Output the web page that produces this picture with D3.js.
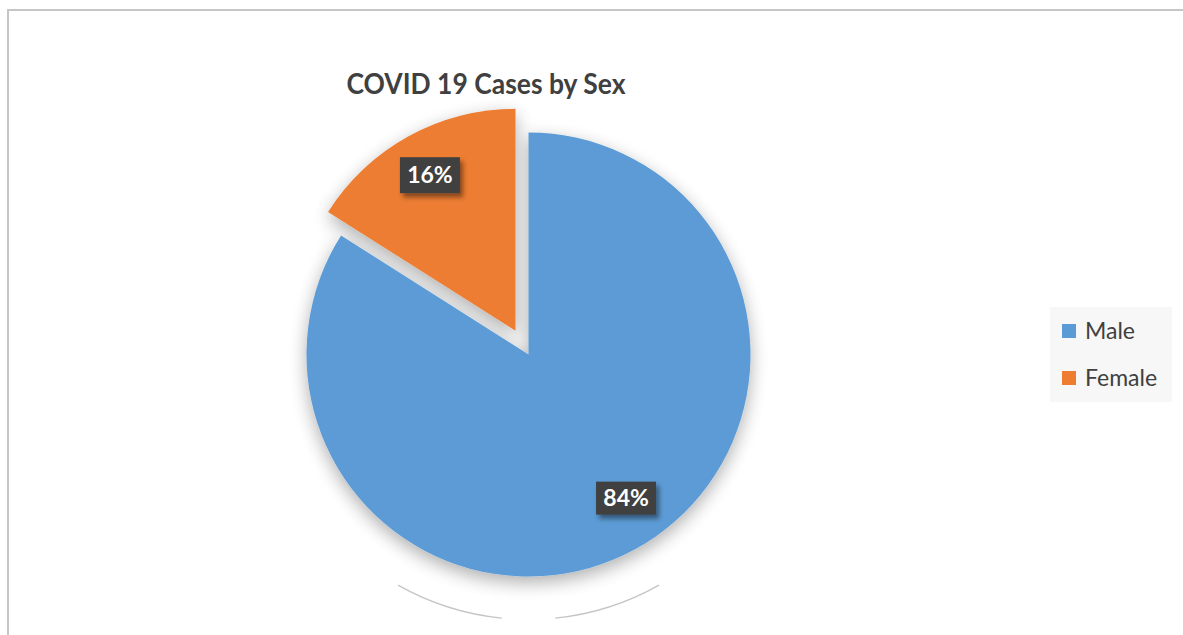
<!DOCTYPE html>
<html>
<head>
<meta charset="utf-8">
<script src="https://cdn.jsdelivr.net/npm/d3@7"></script>
<style>
  html, body { margin: 0; padding: 0; background: #fff; }
  svg { display: block; }
</style>
</head>
<body>
<svg id="chart" width="1183" height="635"></svg>
<script>
// Case counts split by sex (share of total, %)
const categories = ["Male", "Female"];
const values = [84, 16];
const colors = ["#5B9BD5", "#ED7D31"];
const chartTitle = "COVID 19 Cases by Sex";

const W = 1183, H = 635;
const svg = d3.select("#chart");
const defs = svg.append("defs");

// Soft shadow under the pie
const sh = defs.append("filter").attr("id", "pieShadow")
  .attr("x", "-30%").attr("y", "-30%").attr("width", "160%").attr("height", "170%");
sh.append("feGaussianBlur").attr("in", "SourceAlpha").attr("stdDeviation", 9).attr("result", "b");
sh.append("feOffset").attr("in", "b").attr("dx", 0).attr("dy", 6).attr("result", "o");
sh.append("feComponentTransfer").attr("in", "o").attr("result", "s")
  .append("feFuncA").attr("type", "linear").attr("slope", 0.32);
const shm = sh.append("feMerge");
shm.append("feMergeNode").attr("in", "s");
shm.append("feMergeNode").attr("in", "SourceGraphic");

// Shadow for the value labels
const ls = defs.append("filter").attr("id", "labelShadow")
  .attr("x", "-30%").attr("y", "-30%").attr("width", "170%").attr("height", "190%");
ls.append("feDropShadow").attr("dx", 3).attr("dy", 4).attr("stdDeviation", 2.5)
  .attr("flood-color", "#000").attr("flood-opacity", 0.45);

// Chart area frame
svg.append("path")
  .attr("d", `M8,${H} L8,10 L${W},10`)
  .attr("fill", "none").attr("stroke", "#c6c6c6").attr("stroke-width", 2);

// Title
svg.append("text")
  .attr("x", 486).attr("y", 94)
  .attr("text-anchor", "middle")
  .attr("font-family", "Lato, 'Open Sans', sans-serif")
  .attr("font-weight", 700).attr("font-size", 28)
  .attr("fill", "#404040")
  .attr("textLength", 279).attr("lengthAdjust", "spacingAndGlyphs")
  .text(chartTitle);

// Pie
const cx = 528.5, cy = 354.5, R = 222, explode = 27;
const data = categories.map((c, i) => ({ name: c, value: values[i], color: colors[i] }));
const pie = d3.pie().value(d => d.value).sort(null);
const arcs = pie(data);
const arc = d3.arc().innerRadius(0).outerRadius(R);
const labelArc = d3.arc().innerRadius(R * 0.8).outerRadius(R * 0.8);

// Faint ring traces below the pie
const ringArc = d3.arc().innerRadius(265).outerRadius(265);
const ringG = svg.append("g").attr("transform", `translate(${cx},${cy})`);
[[150.5, 174.2], [185.8, 209.5]].forEach(([a0, a1]) => {
  ringG.append("path")
    .attr("d", ringArc({ startAngle: a0 * Math.PI / 180, endAngle: a1 * Math.PI / 180 }))
    .attr("fill", "none").attr("stroke", "#c4c4c4").attr("stroke-width", 1.2);
});

const pieG = svg.append("g").attr("transform", `translate(${cx},${cy})`)
  .attr("filter", "url(#pieShadow)");

// Female slice is pulled out along its bisector
function offsetOf(d) {
  if (d.data.name !== "Female") return [0, 0];
  const mid = (d.startAngle + d.endAngle) / 2;
  return [Math.sin(mid) * explode, -Math.cos(mid) * explode];
}

pieG.selectAll("path.slice").data(arcs).join("path")
  .attr("class", "slice")
  .attr("transform", d => `translate(${offsetOf(d)})`)
  .attr("d", arc)
  .attr("fill", d => d.data.color);

// Value labels
const lblG = svg.append("g").attr("transform", `translate(${cx},${cy})`);
arcs.forEach(d => {
  const [ox, oy] = offsetOf(d);
  let [lx, ly] = labelArc.centroid(d);
  if (d.data.name === "Male") { lx += 12; ly -= 12; }
  const g = lblG.append("g").attr("transform", `translate(${lx + ox},${ly + oy})`);
  const bw = 60, bh = d.data.name === "Male" ? 33 : 36;
  g.append("rect")
    .attr("x", -bw / 2).attr("y", -bh / 2).attr("width", bw).attr("height", bh)
    .attr("fill", "#404040").attr("filter", "url(#labelShadow)");
  g.append("text")
    .attr("text-anchor", "middle").attr("dy", "0.36em")
    .attr("font-family", "Lato, 'Open Sans', sans-serif")
    .attr("font-weight", 700).attr("font-size", 23)
    .attr("fill", "#fff")
    .text(d.data.value + "%");
});

// Legend
const lg = svg.append("g").attr("transform", "translate(1050,307)");
lg.append("rect").attr("width", 122).attr("height", 95).attr("fill", "#f7f7f7");
data.forEach((d, i) => {
  const y = 24 + i * 47;
  lg.append("rect").attr("x", 12).attr("y", y - 7).attr("width", 14).attr("height", 14)
    .attr("fill", d.color);
  lg.append("text").attr("x", 35).attr("y", y + 8)
    .attr("font-family", "Lato, 'Open Sans', sans-serif")
    .attr("font-size", 23).attr("fill", "#404040")
    .text(d.name);
});
</script>
</body>
</html>
